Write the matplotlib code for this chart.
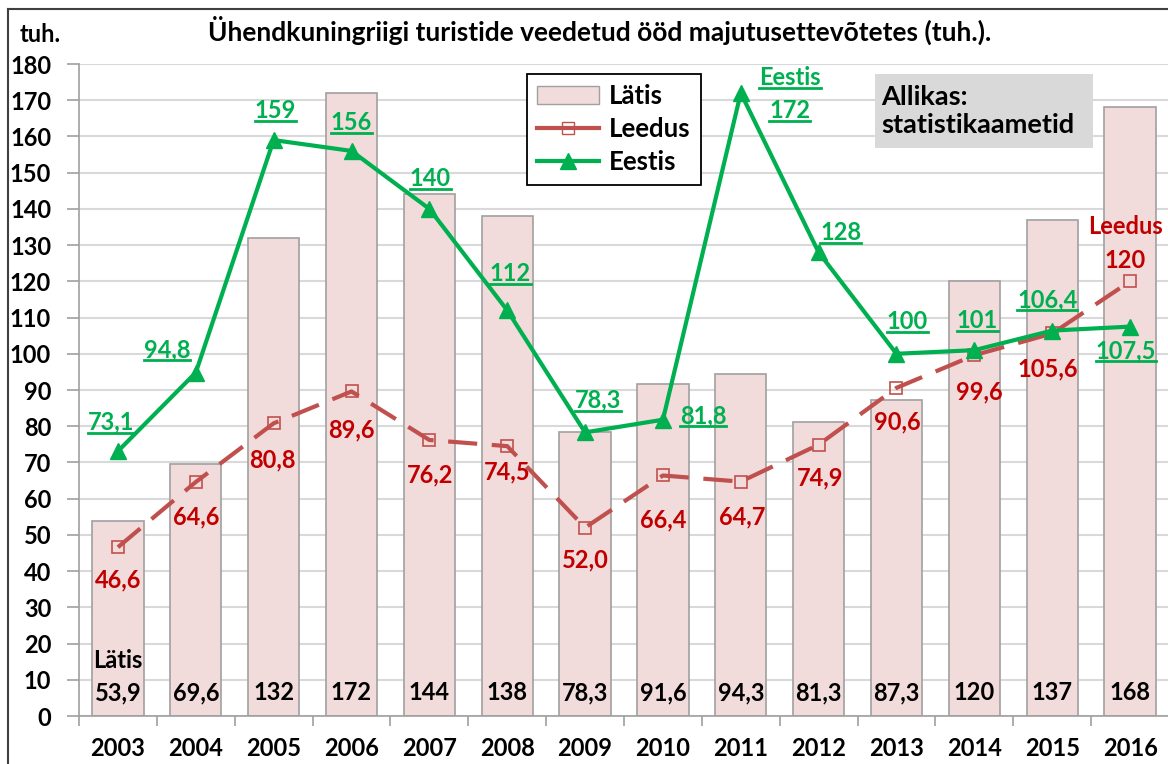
import matplotlib
matplotlib.use("Agg")
import matplotlib.pyplot as plt
from matplotlib.lines import Line2D
from matplotlib.patches import Patch, Rectangle
import numpy as np

plt.rcParams["font.family"] = ["Lato", "DejaVu Sans"]
plt.rcParams["font.weight"] = "bold"

years = ["2003", "2004", "2005", "2006", "2007", "2008", "2009",
         "2010", "2011", "2012", "2013", "2014", "2015", "2016"]
latis = [53.9, 69.6, 132, 172, 144, 138, 78.3, 91.6, 94.3, 81.3, 87.3, 120, 137, 168]
leedus = [46.6, 64.6, 80.8, 89.6, 76.2, 74.5, 52.0, 66.4, 64.7, 74.9, 90.6, 99.6, 105.6, 120]
eestis = [73.1, 94.8, 159, 156, 140, 112, 78.3, 81.8, 172, 128, 100, 101, 106.4, 107.5]

# label offsets in pixels (dx, dy) from each point
eestis_off = [(-7, 29), (-29, 23), (2, 30), (0, 28), (1, 30), (3, 37), (13, 32),
              (40, 4), (49, -18), (22, 20), (11, 32), (3, 30), (-5, 31), (-4, -24)]
leedus_off = [(0, -33), (0, -35), (-1, -37), (0, -38), (1, -35), (0, -26), (0, -32),
              (0, -44), (1, -35), (1, -33), (1, -34), (5, -37), (-4, -35), (-5, 21)]

GREEN = "#00B050"
RED_LINE = "#C0504D"
RED_TXT = "#C00000"
FS = 17
W = "bold"


def fmt(v):
    if v >= 100 and float(v).is_integer():
        return str(int(v))
    return f"{v:.1f}".replace(".", ",")


fig = plt.figure(figsize=(11.68, 7.64), dpi=100)
ax = fig.add_axes([79 / 1168, 48 / 764, 1090 / 1168, 652 / 764])
x = np.arange(len(years))

ax.bar(x, latis, width=0.66, color="#F2DCDB", edgecolor="#A0A0A0", linewidth=1.2, zorder=2)
ax.plot(x, leedus, color=RED_LINE, lw=3, dashes=(7, 3.5), marker="s", ms=8,
        mfc="none", mec=RED_LINE, mew=1.2, zorder=3)
ax.plot(x, eestis, color=GREEN, lw=3, marker="^", ms=12, mfc=GREEN, mec=GREEN, zorder=4)

ax.set_xlim(-0.5, 13.5)
ax.set_ylim(0, 180)
ax.set_yticks(range(0, 181, 10))
ax.yaxis.grid(True, color="#D9D9D9", lw=1.5, zorder=0)
ax.set_axisbelow(True)
ax.set_xticks(x)
ax.set_xticklabels(years, fontweight=W)
ax.set_xticks(np.arange(-0.5, 13.6, 1), minor=True)
ax.tick_params(axis="x", which="major", length=0, pad=15, labelsize=FS)
ax.tick_params(axis="x", which="minor", length=7, color="#A0A0A0", width=1.2)
ax.tick_params(axis="y", length=9, color="#A0A0A0", width=1.2, labelsize=FS, pad=11)
for s in ["top", "right"]:
    ax.spines[s].set_visible(False)
for s in ["left", "bottom"]:
    ax.spines[s].set_color("#A0A0A0")
    ax.spines[s].set_linewidth(1.2)

underlined = []
for i, v in enumerate(eestis):
    dx, dy = eestis_off[i]
    t = ax.annotate(fmt(v), (x[i], v), xytext=(dx, dy), textcoords="offset pixels",
                    ha="center", va="center", color=GREEN, fontsize=FS, fontweight=W, zorder=6)
    underlined.append(t)
t = ax.annotate("Eestis", (x[8], eestis[8]), xytext=(49, 15), textcoords="offset pixels",
                ha="center", va="center", color=GREEN, fontsize=FS, fontweight=W, zorder=6)
underlined.append(t)

for i, v in enumerate(leedus):
    dx, dy = leedus_off[i]
    ax.annotate(fmt(v), (x[i], v), xytext=(dx, dy), textcoords="offset pixels",
                ha="center", va="center", color=RED_TXT, fontsize=FS, fontweight=W, zorder=6)
ax.annotate("Leedus", (x[13], leedus[13]), xytext=(-5, 55), textcoords="offset pixels",
            ha="center", va="center", color=RED_TXT, fontsize=FS, fontweight=W, zorder=6)

for i, v in enumerate(latis):
    ax.annotate(fmt(v), (x[i], 0), xytext=(0, 23), textcoords="offset pixels",
                ha="center", va="center", color="black", fontsize=FS, fontweight=W, zorder=6)
ax.annotate("Lätis", (x[0], 0), xytext=(0, 56), textcoords="offset pixels",
            ha="center", va="center", color="black", fontsize=FS, fontweight=W, zorder=6)

handles = [Patch(facecolor="#F2DCDB", edgecolor="#A0A0A0"),
           Line2D([], [], color=RED_LINE, lw=3, marker="s", ms=9, mfc="none", mec=RED_LINE),
           Line2D([], [], color=GREEN, lw=3, marker="^", ms=12, mfc=GREEN, mec=GREEN)]
leg = fig.legend(handles, ["Lätis", "Leedus", "Eestis"], loc="upper left",
                 bbox_to_anchor=(527 / 1168, 1 - 74 / 764), bbox_transform=fig.transFigure,
                 borderaxespad=0, prop={"size": 18.5, "weight": W}, fancybox=False,
                 framealpha=1, edgecolor="black", handlelength=2.4, labelspacing=0.35,
                 borderpad=0.4, handletextpad=0.4)
leg.get_frame().set_linewidth(1.3)

fig.add_artist(Rectangle((875 / 1168, 1 - 148 / 764), 218 / 1168, 74 / 764,
                         transform=fig.transFigure, facecolor="#D9D9D9", edgecolor="none"))
fig.text(881 / 1168, 1 - 111 / 764, "Allikas:\nstatistikaametid", ha="left", va="center",
         fontsize=19.5, fontweight=W, linespacing=1.2)

fig.text(600 / 1168, 1 - 30 / 764,
         "Ühendkuningriigi turistide veedetud ööd majutusettevõtetes (tuh.).",
         ha="center", va="center", fontsize=19, fontweight=W)
fig.text(40 / 1168, 1 - 35 / 764, "tuh.", ha="center", va="center", fontsize=17, fontweight=W)

# outer frame (left and top edges visible)
fig.add_artist(Line2D([8 / 1168, 8 / 1168], [0, 1 - 9 / 764], transform=fig.transFigure,
                      color="#404040", lw=1.5))
fig.add_artist(Line2D([8 / 1168, 1], [1 - 9 / 764, 1 - 9 / 764], transform=fig.transFigure,
                      color="#404040", lw=1.5))

# underline the Eestis labels
fig.canvas.draw()
r = fig.canvas.get_renderer()
for t in underlined:
    bb = t.get_window_extent(r)
    yy = bb.y0 + 1
    fig.add_artist(Line2D([bb.x0 / 1168, bb.x1 / 1168], [yy / 764, yy / 764],
                          transform=fig.transFigure, color=GREEN, lw=2, zorder=7))

fig.savefig("out.png", dpi=100)
